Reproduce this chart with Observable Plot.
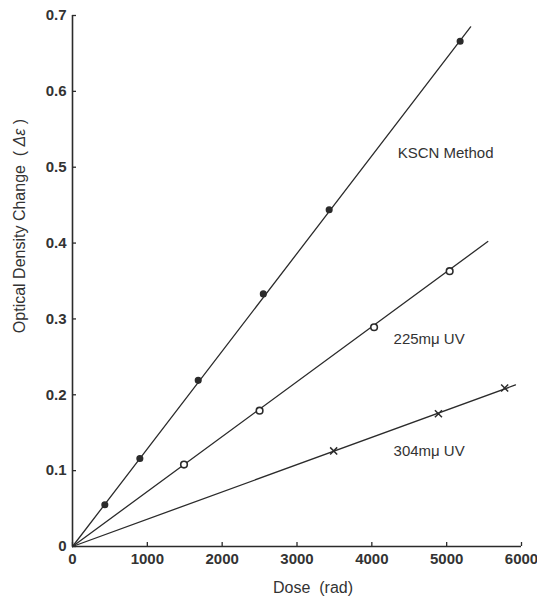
<!DOCTYPE html>
<html><head><meta charset="utf-8">
<script src="https://cdn.jsdelivr.net/npm/d3@7"></script>
<script src="https://cdn.jsdelivr.net/npm/@observablehq/plot@0.6"></script>
<style>body{margin:0;background:#fff}</style>
</head><body><div id="chart"></div>
<script>
// measured points
const kscnDose = [432, 900, 1680, 2550, 3430, 5180];
const kscnOD   = [0.055, 0.116, 0.219, 0.333, 0.444, 0.666];
const uv225Dose = [1490, 2500, 4030, 5040];
const uv225OD   = [0.108, 0.179, 0.289, 0.363];
const uv304Dose = [3490, 4890, 5775];
const uv304OD   = [0.126, 0.175, 0.209];
// fitted straight lines (start, end)
const kscnLineDose = [0, 5320];  const kscnLineOD = [0, 0.685];
const uv225LineDose = [0, 5550]; const uv225LineOD = [0, 0.402];
const uv304LineDose = [0, 5920]; const uv304LineOD = [0, 0.213];
// ticks
const xTicks = [0, 1000, 2000, 3000, 4000, 5000, 6000];
const yTicks = [0, 0.1, 0.2, 0.3, 0.4, 0.5, 0.6, 0.7];
// series labels
const seriesNames = ["KSCN Method", "225mμ UV", "304mμ UV"];
const labelDose = [4345, 4290, 4290];
const labelOD = [0.518, 0.273, 0.125];

const toRows = (xs, ys) => xs.map((x, i) => ({x, y: ys[i]}));
const kscn = toRows(kscnDose, kscnOD);
const uv225 = toRows(uv225Dose, uv225OD);
const uv304 = toRows(uv304Dose, uv304OD);
const lines = [
  ...toRows(kscnLineDose, kscnLineOD).map(d => ({...d, s: "k"})),
  ...toRows(uv225LineDose, uv225LineOD).map(d => ({...d, s: "a"})),
  ...toRows(uv304LineDose, uv304LineOD).map(d => ({...d, s: "b"}))
];
const labels = seriesNames.map((t, i) => ({t, x: labelDose[i], y: labelOD[i]}));
const ink = "#2b2b2b";

const chart = Plot.plot({
  width: 537, height: 598,
  marginLeft: 72, marginRight: 16, marginTop: 15, marginBottom: 52,
  style: {fontFamily: "'Liberation Sans', Arial, sans-serif", background: "#fff", color: "#333"},
  x: {domain: [0, 6000]},
  y: {domain: [0, 0.7]},
  marks: [
    Plot.axisX({ticks: xTicks, tickSize: -4, tickPadding: 11, label: null, fontSize: 15, fontWeight: "bold", stroke: ink, strokeWidth: 1.3, tickFormat: d => String(d)}),
    Plot.axisY({ticks: yTicks, tickSize: -4, tickPadding: 10, label: null, fontSize: 15, fontWeight: "bold", stroke: ink, strokeWidth: 1.3, tickFormat: d => d === 0 ? "0" : d.toFixed(1)}),
    Plot.ruleX([0], {stroke: ink, strokeWidth: 1.6}),
    Plot.ruleY([0], {stroke: ink, strokeWidth: 1.6}),
    Plot.line(lines, {x: "x", y: "y", z: "s", stroke: ink, strokeWidth: 1.3}),
    Plot.dot(kscn, {x: "x", y: "y", r: 2.8, fill: ink, stroke: ink}),
    Plot.dot(uv225, {x: "x", y: "y", r: 3.3, fill: "#fff", stroke: ink, strokeWidth: 1.6}),
    Plot.dot(uv304, {x: "x", y: "y", r: 3.3, symbol: "times", stroke: ink, strokeWidth: 1.5}),
    Plot.text(labels, {x: "x", y: "y", text: "t", textAnchor: "start", fontSize: 15, fill: "#333"}),
    Plot.text(["Dose\u00a0\u00a0(rad)"], {text: d => d, frameAnchor: "bottom", dx: 16, dy: 46, fontSize: 16, fill: "#333"}),
    Plot.text(["YLABEL"], {text: d => d, frameAnchor: "left", textAnchor: "middle", rotate: -90, dx: -53, dy: -55, fontSize: 16, fill: "#333"})
  ]
});
document.getElementById("chart").appendChild(chart);
// y label with italic Δε
d3.select(chart).selectAll("text").filter(function() { return this.textContent === "YLABEL"; })
  .each(function() {
    const t = d3.select(this);
    t.text(null);
    t.append("tspan").text("Optical Density Change\u00a0\u00a0(\u00a0");
    t.append("tspan").attr("font-style", "italic").text("Δε");
    t.append("tspan").text("\u00a0)");
  });
</script>
</body></html>
